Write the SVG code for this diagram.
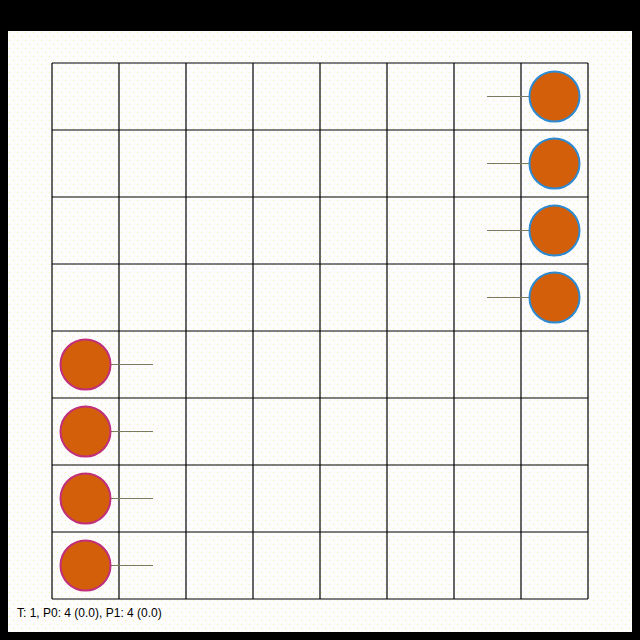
<svg xmlns="http://www.w3.org/2000/svg" width="640" height="640" viewBox="0 0 640 640">
<style>
.grid line{stroke:#000;stroke-width:1.2}
.p0{fill:#d45f0a;stroke:#c0307a;stroke-width:2}
.p1{fill:#d45f0a;stroke:#2e8ad0;stroke-width:2}
.dir{stroke:#7a7a60;stroke-width:1.2}
.lbl{font-family:"Liberation Sans",Arial,sans-serif;font-size:12px;fill:#000}
</style>
<defs>
<pattern id="dots" width="8" height="8" patternUnits="userSpaceOnUse" x="8" y="31">
<rect width="8" height="8" fill="#fcfcff"/>
<rect x="1" y="1" width="1" height="1" fill="#f6f090"/>
<rect x="5" y="5" width="1" height="1" fill="#f6f090"/>
</pattern>
</defs>
<rect width="640" height="640" fill="#000"/>
<rect x="8" y="31" width="624" height="601" fill="url(#dots)"/>
<g id="board" class="grid">
<line x1="52" y1="63" x2="52" y2="599"/>
<line x1="119" y1="63" x2="119" y2="599"/>
<line x1="186" y1="63" x2="186" y2="599"/>
<line x1="253" y1="63" x2="253" y2="599"/>
<line x1="320" y1="63" x2="320" y2="599"/>
<line x1="387" y1="63" x2="387" y2="599"/>
<line x1="454" y1="63" x2="454" y2="599"/>
<line x1="521" y1="63" x2="521" y2="599"/>
<line x1="588" y1="63" x2="588" y2="599"/>
<line x1="52" y1="63" x2="588" y2="63"/>
<line x1="52" y1="130" x2="588" y2="130"/>
<line x1="52" y1="197" x2="588" y2="197"/>
<line x1="52" y1="264" x2="588" y2="264"/>
<line x1="52" y1="331" x2="588" y2="331"/>
<line x1="52" y1="398" x2="588" y2="398"/>
<line x1="52" y1="465" x2="588" y2="465"/>
<line x1="52" y1="532" x2="588" y2="532"/>
<line x1="52" y1="599" x2="588" y2="599"/>
</g>
<g id="connectors">
<line class="dir" x1="554.5" y1="96.5" x2="487" y2="96.5"/>
<line class="dir" x1="554.5" y1="163.5" x2="487" y2="163.5"/>
<line class="dir" x1="554.5" y1="230.5" x2="487" y2="230.5"/>
<line class="dir" x1="554.5" y1="297.5" x2="487" y2="297.5"/>
<line class="dir" x1="85.5" y1="364.5" x2="153" y2="364.5"/>
<line class="dir" x1="85.5" y1="431.5" x2="153" y2="431.5"/>
<line class="dir" x1="85.5" y1="498.5" x2="153" y2="498.5"/>
<line class="dir" x1="85.5" y1="565.5" x2="153" y2="565.5"/>
</g>
<g id="p1a"><circle class="p1" cx="554.5" cy="96.5" r="25"/></g>
<g id="p1b"><circle class="p1" cx="554.5" cy="163.5" r="25"/></g>
<g id="p1c"><circle class="p1" cx="554.5" cy="230.5" r="25"/></g>
<g id="p1d"><circle class="p1" cx="554.5" cy="297.5" r="25"/></g>
<g id="p0a"><circle class="p0" cx="85.5" cy="364.5" r="25"/></g>
<g id="p0b"><circle class="p0" cx="85.5" cy="431.5" r="25"/></g>
<g id="p0c"><circle class="p0" cx="85.5" cy="498.5" r="25"/></g>
<g id="p0d"><circle class="p0" cx="85.5" cy="565.5" r="25"/></g>
<g id="status"><text class="lbl" x="17" y="617">T: 1, P0: 4 (0.0), P1: 4 (0.0)</text></g>
</svg>
